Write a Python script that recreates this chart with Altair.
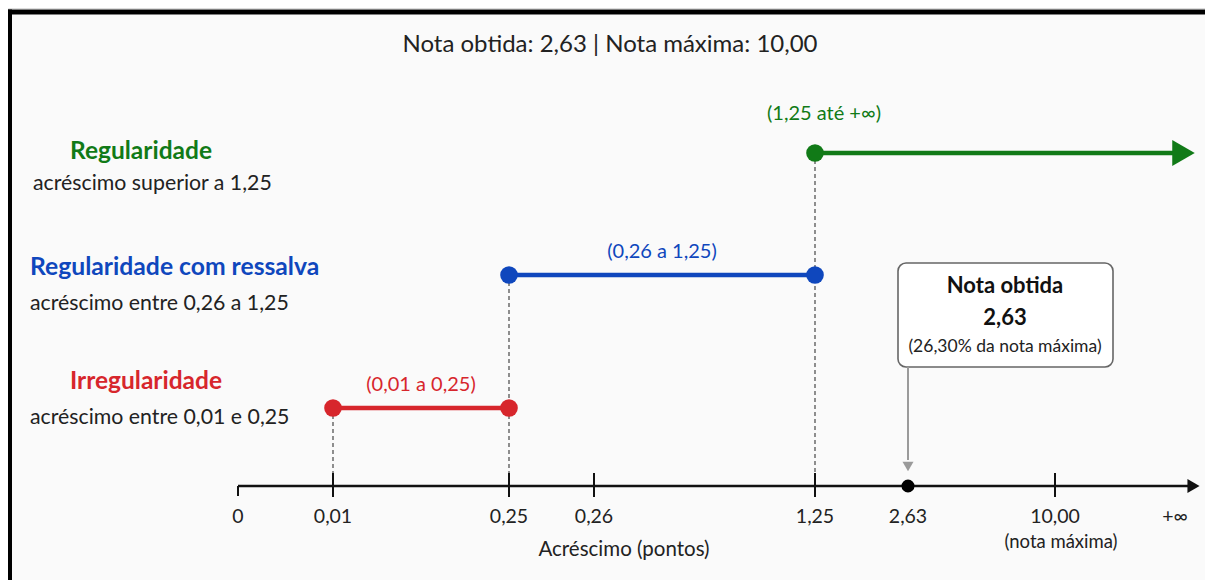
import altair as alt
import pandas as pd

FONT = "Lato"

# ---- data -------------------------------------------------------------
tick_labels = ["0", "0,01", "0,25", "0,26", "1,25", "2,63", "10,00", "+∞"]
tick_pos = [0.0, 0.95, 2.71, 3.56, 5.77, 6.70, 8.17, 9.37]   # schematic (non-linear) axis positions
P = dict(zip(tick_labels, tick_pos))

row_names = ["Irregularidade", "Regularidade com ressalva", "Regularidade"]
row_desc = ["acréscimo entre 0,01 e 0,25", "acréscimo entre 0,26 a 1,25", "acréscimo superior a 1,25"]
row_start = ["0,01", "0,25", "1,25"]
row_end = ["0,25", "1,25", "+∞"]
row_range_text = ["(0,01 a 0,25)", "(0,26 a 1,25)", "(1,25 até +∞)"]
row_level = [0.78, 2.11, 3.33]
row_colors = ["#d7262c", "#0f47bd", "#117a17"]

nota_obtida = "2,63"
nota_maxima = "10,00"
percent_text = "(26,30% da nota máxima)"
title_text = f"Nota obtida: {nota_obtida} | Nota máxima: {nota_maxima}"

# ---- scales -----------------------------------------------------------
xs = alt.Scale(domain=[-2.30, 9.67], nice=False, zero=False)
ys = alt.Scale(domain=[-0.94, 4.78], nice=False, zero=False)
X = lambda f="x": alt.X(f"{f}:Q", scale=xs, axis=None)
Y = lambda f="y": alt.Y(f"{f}:Q", scale=ys, axis=None)

segs = pd.DataFrame({
    "name": row_names,
    "x": [P[s] for s in row_start],
    "x2": [P[e] for e in row_end],
    "y": row_level,
    "color": row_colors,
    "label": row_range_text,
})
segs["y0"] = 0.0
segs["mid"] = (segs["x"] + segs["x2"]) / 2

pts = pd.DataFrame({
    "x": [P["0,01"], P["0,25"], P["0,25"], P["1,25"], P["1,25"]],
    "y": [row_level[0], row_level[0], row_level[1], row_level[1], row_level[2]],
    "color": [row_colors[0], row_colors[0], row_colors[1], row_colors[1], row_colors[2]],
})

axis_df = pd.DataFrame({"x": [P["0"]], "x2": [P["+∞"]], "y": [0.0]})
ticks_df = pd.DataFrame({"x": [P[t] for t in ["0,01", "0,25", "0,26", "1,25", "10,00"]], "y": 0.0})
zero_df = pd.DataFrame({"x": [P["0"]], "y": [0.0]})
labels_df = pd.DataFrame({"x": tick_pos, "y": 0.0, "t": tick_labels})
nota_df = pd.DataFrame({"x": [P[nota_obtida]], "y": [0.0]})
max_df = pd.DataFrame({"x": [P[nota_maxima]], "y": [0.0], "t": ["(nota máxima)"]})

# ---- helpers ----------------------------------------------------------
def label(txt, x, y, size, color="#222222", weight="normal", align="center"):
    return alt.Chart(pd.DataFrame({"t": [txt]})).mark_text(
        font=FONT, fontSize=size, color=color, fontWeight=weight, align=align, baseline="middle"
    ).encode(x=alt.value(x), y=alt.value(y), text="t:N")

# ---- layers -----------------------------------------------------------
bg = alt.Chart(pd.DataFrame({"a": [0]})).mark_rect(fill="#fafafa").encode(
    x=alt.value(3), x2=alt.value(1197), y=alt.value(7), y2=alt.value(572))
frame_top = alt.Chart(pd.DataFrame({"a": [0]})).mark_rule(color="#000", strokeWidth=5).encode(
    x=alt.value(0), x2=alt.value(1197), y=alt.value(4))
frame_left = alt.Chart(pd.DataFrame({"a": [0]})).mark_rule(color="#000", strokeWidth=5).encode(
    x=alt.value(1.5), y=alt.value(1.5), y2=alt.value(572))

dashes = alt.Chart(segs).mark_rule(color="#555", strokeWidth=1.3, strokeDash=[4, 3]).encode(
    x=X(), y=Y(), y2=alt.Y2("y0:Q"))

axis_line = alt.Chart(axis_df).mark_rule(color="#111", strokeWidth=2.5, x2Offset=14).encode(
    x=X(), x2=alt.X2("x2:Q"), y=Y())
axis_head = alt.Chart(axis_df).mark_point(shape="triangle-right", filled=True, opacity=1,
                                          color="#111", size=196, xOffset=18.5).encode(
    x=alt.X("x2:Q", scale=xs, axis=None), y=Y())
ticks = alt.Chart(ticks_df).mark_rule(color="#111", strokeWidth=2, yOffset=-13, y2Offset=11).encode(
    x=X(), y=Y(), y2=alt.Y2("y:Q"))
zero_tick = alt.Chart(zero_df).mark_rule(color="#111", strokeWidth=2, y2Offset=10).encode(
    x=X(), y=Y(), y2=alt.Y2("y:Q"))
tick_text = alt.Chart(labels_df).mark_text(font=FONT, fontSize=19.5, color="#222", dy=31, baseline="middle").encode(
    x=X(), y=Y(), text="t:N")
max_text = alt.Chart(max_df).mark_text(font=FONT, fontSize=18.5, color="#222", dy=56, dx=6, baseline="middle").encode(
    x=X(), y=Y(), text="t:N")

seg_lines = alt.Chart(segs.iloc[:2]).mark_rule(strokeWidth=4.5).encode(
    x=X(), x2=alt.X2("x2:Q"), y=Y(), color=alt.Color("color:N", scale=None))
green_line = alt.Chart(segs.iloc[2:]).mark_rule(strokeWidth=4.5, x2Offset=2).encode(
    x=X(), x2=alt.X2("x2:Q"), y=Y(), color=alt.Color("color:N", scale=None))
green_head = alt.Chart(segs.iloc[2:]).mark_point(shape="triangle-right", filled=True, opacity=1,
                                                 size=676, xOffset=8.5).encode(
    x=alt.X("x2:Q", scale=xs, axis=None), y=Y(), color=alt.Color("color:N", scale=None))
dots = alt.Chart(pts).mark_circle(size=310, opacity=1).encode(
    x=X(), y=Y(), color=alt.Color("color:N", scale=None))
range_text = alt.Chart(segs.iloc[:2]).mark_text(font=FONT, fontSize=20, dy=-23, baseline="middle").encode(
    x=X("mid"), y=Y(), text="label:N", color=alt.Color("color:N", scale=None))
green_text = alt.Chart(segs.iloc[2:]).mark_text(font=FONT, fontSize=20, dy=-39, dx=9, baseline="middle").encode(
    x=X(), y=Y(), text="label:N", color=alt.Color("color:N", scale=None))

nota_dot = alt.Chart(nota_df).mark_circle(size=170, color="#000", opacity=1).encode(x=X(), y=Y())

box = alt.Chart(pd.DataFrame({"a": [0]})).mark_rect(
    fill="#ffffff", stroke="#666", strokeWidth=1.6, cornerRadius=8).encode(
    x=alt.value(890), x2=alt.value(1105), y=alt.value(255), y2=alt.value(359))
pointer = alt.Chart(nota_df).mark_rule(color="#9a9a9a", strokeWidth=2).encode(
    x=X(), y=alt.value(359), y2=alt.value(452))
pointer_head = alt.Chart(nota_df).mark_point(shape="triangle-down", filled=True, opacity=1,
                                             color="#9a9a9a", size=121, yOffset=-19.5).encode(x=X(), y=Y())

texts = [
    label(title_text, 602, 37, 24),
    label(row_names[2], 133, 144, 24.5, row_colors[2], "bold"),
    label(row_desc[2], 25, 176, 21.3, align="left"),
    label(row_names[1], 22, 260, 24.7, row_colors[1], "bold", align="left"),
    label(row_desc[1], 22, 296, 21.3, align="left"),
    label(row_names[0], 138, 374, 24.5, row_colors[0], "bold"),
    label(row_desc[0], 22, 410, 21.3, align="left"),
    label("Acréscimo (pontos)", 616, 542, 20.5),
    label("Nota obtida", 997, 278, 22, "#111", "bold"),
    label(nota_obtida, 997, 310, 22, "#111", "bold"),
    label(percent_text, 997, 339, 17.5, "#222"),
]

chart = alt.layer(
    bg, frame_top, frame_left,
    dashes, axis_line, axis_head, ticks, zero_tick, tick_text, max_text,
    seg_lines, green_line, green_head, dots, range_text, green_text,
    nota_dot, box, pointer, pointer_head,
    *texts,
).properties(
    width=1197, height=572, padding=0, autosize=alt.AutoSizeParams(type="none")
).configure_view(strokeWidth=0).configure(background="#ffffff")

chart.save("out.html", embed_options={"renderer": "svg", "actions": False})
